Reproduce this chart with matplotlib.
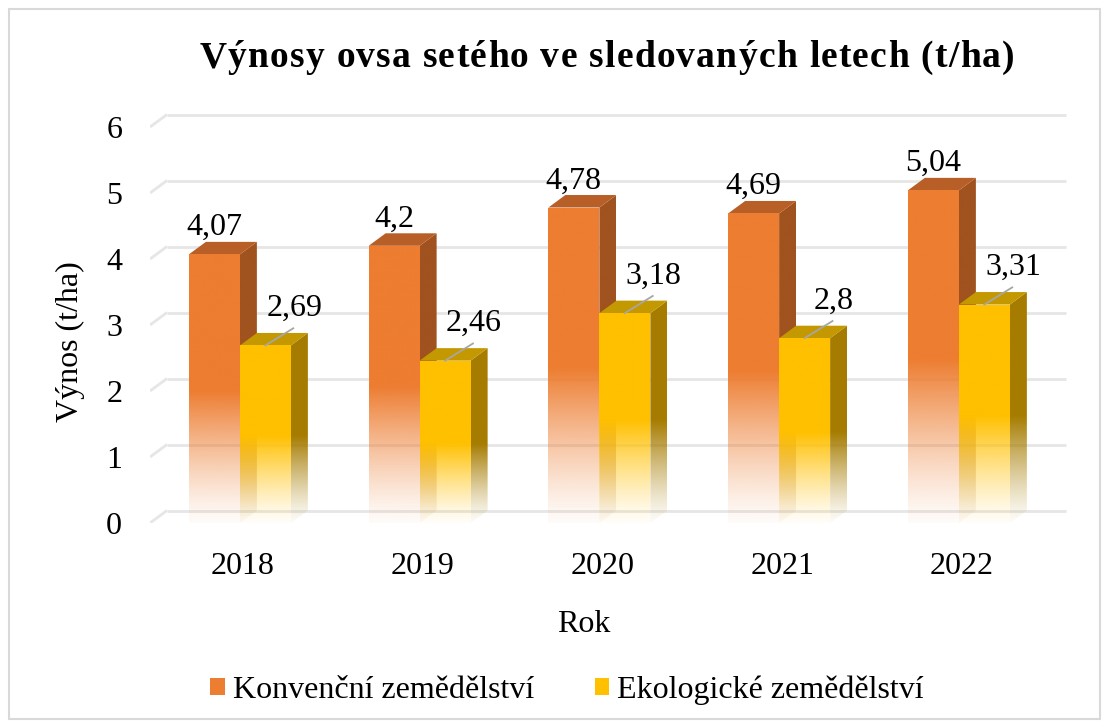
import numpy as np
import matplotlib
matplotlib.use("Agg")
import matplotlib.pyplot as plt
from matplotlib.patches import Polygon, Rectangle, Patch

plt.rcParams['font.family'] = ['Liberation Serif', 'DejaVu Serif']

# data
years = ['2018', '2019', '2020', '2021', '2022']
konv = [4.07, 4.2, 4.78, 4.69, 5.04]
eko = [2.69, 2.46, 3.18, 2.8, 3.31]
series_names = ['Konvenční zemědělství', 'Ekologické zemědělství']
title_txt = 'Výnosy ovsa setého ve sledovaných letech (t/ha)'

# colours: front, side, top
c_konv = ('#ED7D31', '#A0521F', '#B85E27')
c_eko = ('#FFC000', '#A67C00', '#C49800')

FS = 23
W, H = 1109, 728
fig = plt.figure(figsize=(W / 100, H / 100), dpi=100)
fig.patch.set_facecolor('white')

# frame around the chart
fig.add_artist(Rectangle((9 / W, 9 / H), 1091 / W, 710 / H, transform=fig.transFigure,
                         facecolor='none', edgecolor='#D9D9D9', lw=1.5))

px_x = 179.75   # pixels per category
px_y = 66.0     # pixels per t/ha
x_lo, x_hi = -0.5, 4.75
y_lo, y_hi = 0, 6.6
ax = fig.add_axes([150 / W, 205 / H, (x_hi - x_lo) * px_x / W, (y_hi - y_lo) * px_y / H])
ax.set_facecolor('none')
for s in ax.spines.values():
    s.set_visible(False)

dx = 17 / px_x
dy = 12.5 / px_y
bw = 51 / px_x

# gridlines (back wall + floor edge)
for v in range(7):
    ax.plot([-0.5, -0.5 + dx], [v, v + dy], color='#E6E6E6', lw=2, zorder=1, solid_capstyle='butt')
    ax.plot([-0.5 + dx, 4.5 + dx], [v + dy, v + dy], color='#E6E6E6', lw=2, zorder=1, solid_capstyle='butt')

zc = [2]


def grad_face(verts, col, h):
    poly = Polygon(verts, closed=True, facecolor='none', edgecolor='none')
    ax.add_patch(poly)
    xs = [p[0] for p in verts]
    ys = [p[1] for p in verts]
    n = 300
    yy = np.linspace(min(ys), max(ys), n)
    frac = np.clip(yy / (0.49 * h), 0, 1)
    alpha = 0.03 + 0.97 * frac ** 1.25
    img = np.zeros((n, 1, 4))
    img[..., :3] = matplotlib.colors.to_rgb(col)
    img[:, 0, 3] = alpha
    im = ax.imshow(img, extent=[min(xs), max(xs), min(ys), max(ys)], origin='lower',
                   aspect='auto', interpolation='bilinear', zorder=zc[0])
    im.set_clip_path(poly)
    zc[0] += 1


def bar3d(x0, h, cols):
    x1 = x0 + bw
    grad_face([(x1, 0), (x1 + dx, dy), (x1 + dx, h + dy), (x1, h)], cols[1], h)
    ax.add_patch(Polygon([(x0, h), (x1, h), (x1 + dx, h + dy), (x0 + dx, h + dy)],
                         closed=True, facecolor=cols[2], edgecolor='none', zorder=zc[0]))
    zc[0] += 1
    grad_face([(x0, 0), (x1, 0), (x1, h), (x0, h)], cols[0], h)


def fmt(v):
    return ('%g' % v).replace('.', ',')


for i in range(len(years)):
    bar3d(i - bw, konv[i], c_konv)
    bar3d(i, eko[i], c_eko)
    ax.text(i - bw / 2, konv[i] + 0.29, fmt(konv[i]), ha='center', va='baseline',
            fontsize=FS, zorder=100)
    xc = i + bw / 2
    ax.plot([xc, xc + 0.155], [eko[i], eko[i] + 0.26], color='#A6A6A6', lw=1.3, zorder=99)
    ax.text(xc + 0.16, eko[i] + 0.45, fmt(eko[i]), ha='center', va='baseline',
            fontsize=FS, zorder=100)

ax.set_xlim(x_lo, x_hi)
ax.set_ylim(y_lo, y_hi)
ax.set_yticks(range(7))
ax.set_yticklabels([str(v) for v in range(7)], fontsize=FS)
ax.set_xticks(np.arange(len(years)) + 0.017)
ax.set_xticklabels(years, fontsize=FS)
ax.tick_params(axis='y', length=0, pad=20)
ax.tick_params(axis='x', length=0, pad=21)

fig.text(584 / W, 1 - 632 / H, 'Rok', ha='center', va='baseline', fontsize=FS)
fig.text(70 / W, 1 - 342 / H, 'Výnos (t/ha)', ha='center', va='center', fontsize=FS,
         rotation=90)

# title with letter spacing
renderer = fig.canvas.get_renderer()


def text_w(s, size):
    t = fig.text(0, 0, s, fontsize=size, fontweight='bold')
    w = t.get_window_extent(renderer).width
    t.remove()
    return w


tsize = 27
bar_w = text_w('|', tsize)
full_w = text_w(title_txt, tsize)
track = max(0.0, (815 - full_w) / (len(title_txt) - 1))
start = 607 - 815 / 2 if track > 0 else 607 - full_w / 2
for k, ch in enumerate(title_txt):
    if ch == ' ':
        continue
    off = text_w(title_txt[:k] + '|', tsize) - bar_w if k > 0 else 0
    fig.text((start + off + k * track) / W, 1 - 67 / H, ch, fontsize=tsize,
             fontweight='bold', ha='left', va='baseline')

handles = [Patch(facecolor=c_konv[0]), Patch(facecolor=c_eko[0])]
fig.legend(handles, series_names, loc='center', bbox_to_anchor=(567 / W, 1 - 690 / H),
           ncol=2, frameon=False, fontsize=FS, handlelength=0.45, handleheight=0.45,
           handletextpad=0.25, columnspacing=1.9)

fig.savefig('out.png', dpi=100)
